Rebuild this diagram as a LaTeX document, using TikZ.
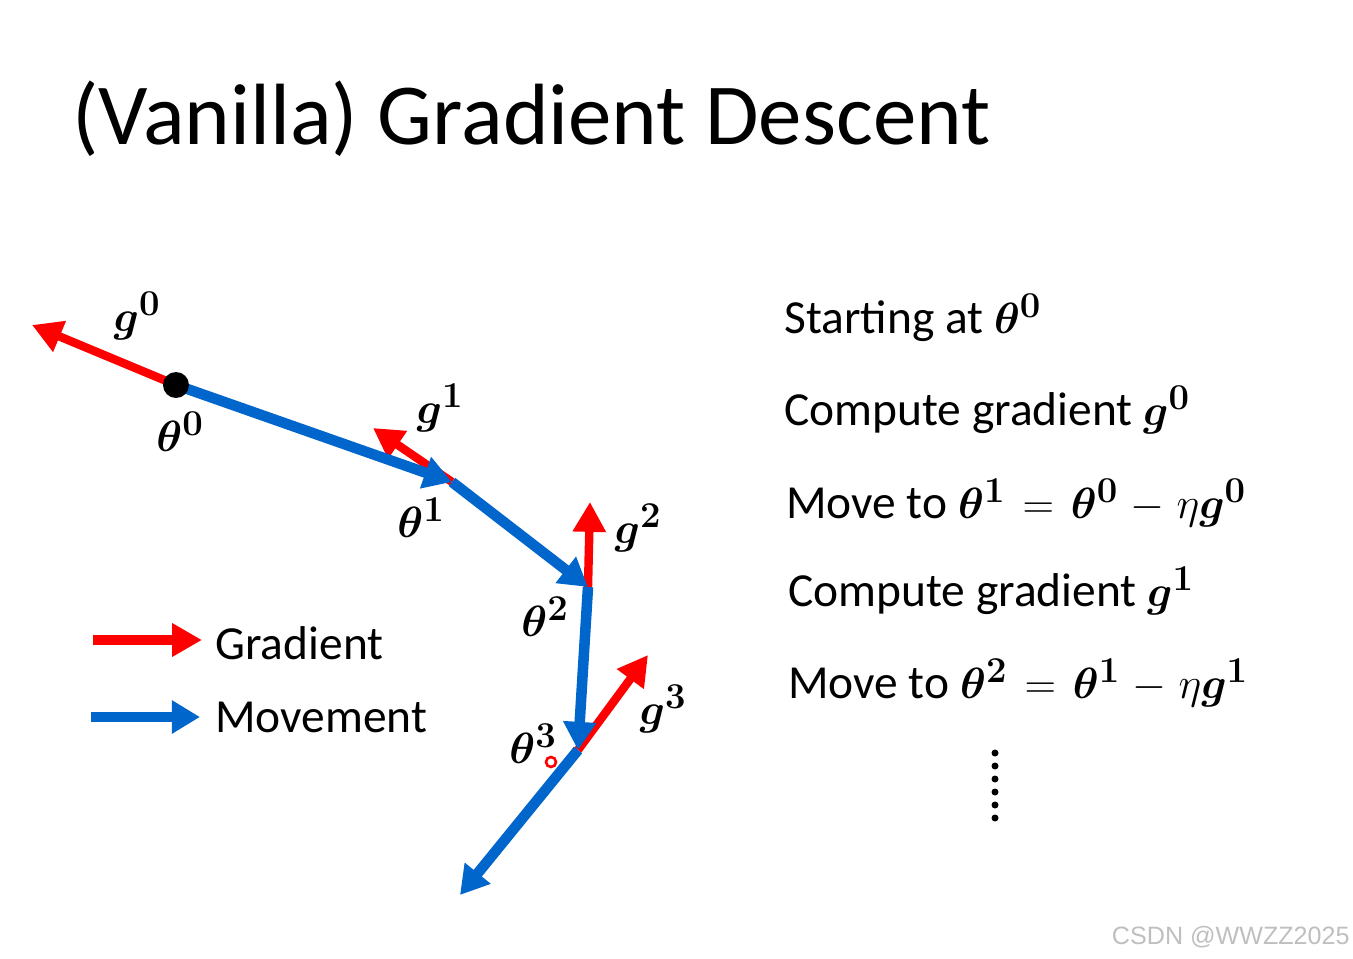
\documentclass[tikz,border=0pt]{standalone}
\usepackage{amsmath}
\usepackage{bm}
\usepackage{fontspec}
\setmainfont{Carlito}
\newfontfamily\markfont{Liberation Sans}
\usetikzlibrary{arrows.meta,positioning}

\definecolor{gradred}{RGB}{255,0,0}
\definecolor{moveblue}{RGB}{0,102,204}

\newcommand{\stepmath}[1]{{\fontsize{32}{36}\selectfont\thickmuskip=7mu\medmuskip=5mu$#1$}}

\tikzset{
  grad/.style={draw=gradred, line width=4.8pt, -{Triangle[length=17pt,width=18pt]}},
  move/.style={draw=moveblue, line width=6pt, -{Triangle[length=16pt,width=18pt]}},
  sym/.style={font=\fontsize{31}{35}\selectfont, inner sep=0pt},
  txt/.style={font=\fontsize{27}{32}\selectfont, anchor=west, inner sep=0pt},
}

\begin{document}
\begin{tikzpicture}[x=0.02cm, y=-0.02cm]
                \useasboundingbox (0,0) rectangle (1353,959);

                % Title
                \node[font=\fontsize{49.5}{58}\selectfont, anchor=base west, inner sep=0pt] (title) at (72,145) {(Vanilla) Gradient Descent};

                % Path points
                \coordinate (t0) at (176,385);
                \coordinate (t1) at (452,482);
                \coordinate (t2) at (588,587);
                \coordinate (t3) at (578,750);
                \coordinate (t4) at (460,895);
                \coordinate (g0) at (32,325);
                \coordinate (g1) at (373,428);
                \coordinate (g2) at (590,502);
                \coordinate (g3) at (648,655);

                % Gradients
                \draw[grad] (t0) -- (g0);
                \draw[grad] (t1) -- (g1);
                \draw[grad] (t2) -- (g2);
                \draw[grad] (t3) -- (g3);

                % Movements
                \draw[move] (t0) -- (t1);
                \draw[move] (t1) -- (t2);
                \draw[move] (t2) -- (t3);
                \draw[move] (t3) -- (t4);
                \fill (t0) circle (13);

                % Point labels
                \node[sym] (lg0) at (137,316) {$\bm{g^0}$};
                \node[sym] (lt0) at (180,432) {$\bm{\theta^0}$};
                \node[sym] (lg1) at (440,408) {$\bm{g^1}$};
                \node[sym] (lt1) at (421,518) {$\bm{\theta^1}$};
                \node[sym] (lg2) at (638,528) {$\bm{g^2}$};
                \node[sym] (lt2) at (545,617) {$\bm{\theta^2}$};
                \node[sym] (lt3) at (533,744) {$\bm{\theta^3}$};
                \node[sym] (lg3) at (663,709) {$\bm{g^3}$};

                % Pointer mark
                \draw[gradred, line width=1.5pt] (551,762) circle (5);

                % Legend
                \coordinate (r0) at (93,640);
                \coordinate (r1) at (202,640);
                \coordinate (b0) at (91,717);
                \coordinate (b1) at (200,717);
                \draw[grad, line width=6pt] (r0) -- (r1);
                \draw[move] (b0) -- (b1);
                \node[txt] (lgrad) at (215,643) {Gradient};
                \node[txt] (lmove) at (215,717) {Movement};

                % Steps
                \node[txt] (s1) at (784,318) {Starting at \stepmath{\bm{\theta^0}}};
                \node[txt] (s2) at (784,410) {Compute gradient \stepmath{\bm{g^0}}};
                \node[txt] (s3) at (786,503) {Move to \stepmath{\bm{\theta^1} = \bm{\theta^0} - \eta\bm{g^0}}};
                \node[txt] (s4) at (788,591) {Compute gradient \stepmath{\bm{g^1}}};
                \node[txt] (s5) at (788,683) {Move to \stepmath{\bm{\theta^2} = \bm{\theta^1} - \eta\bm{g^1}}};
                \foreach \k in {0,...,5}
                    \fill (995,{753+13*\k}) circle (3.5);

                % Watermark
                \node[font=\markfont\fontsize{14.3}{17}\selectfont, text=black!25, anchor=base east, inner sep=0pt] (mark) at (1350,944) {CSDN @WWZZ2025};
            \end{tikzpicture}
\end{document}
